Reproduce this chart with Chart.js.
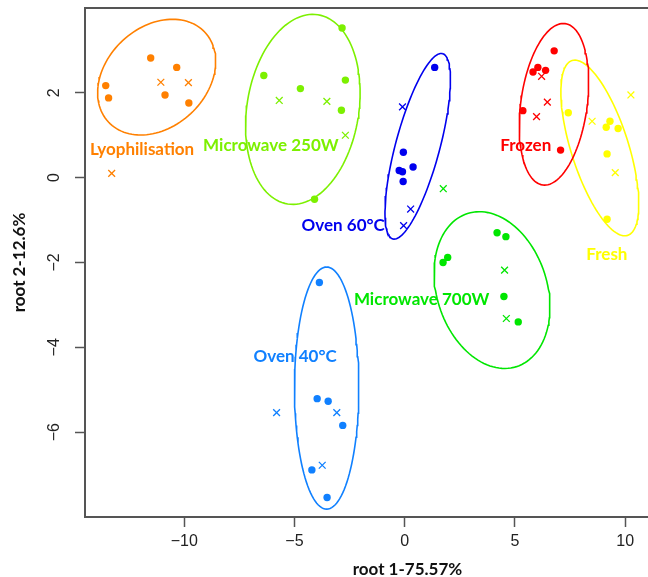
<!DOCTYPE html>
<html>
<head>
<meta charset="utf-8">
<script src="https://cdn.jsdelivr.net/npm/chart.js@4.4.1/dist/chart.umd.min.js"></script>
<style>
	html, body { margin: 0; padding: 0; background: #fff; overflow: hidden; }
	#wrap { width: 648px; height: 577px; overflow: hidden; }
</style>
</head>
<body>
<div id="wrap"><canvas id="lda-canvas" width="736" height="577"></canvas></div>
<script>
// tick values on both axes
const xTicks = [-10, -5, 0, 5, 10];
const yTicks = [-6, -4, -2, 0, 2];

// treatment groups and their colours
const groups = ["Lyophilisation", "Microwave 250W", "Oven 60°C", "Frozen", "Fresh", "Microwave 700W", "Oven 40°C"];
const colors = ["#ff8000", "#7cf000", "#0000ee", "#ff0000", "#ffff00", "#00e600", "#1080ff"];

// samples (filled dots) per group, [root 1, root 2]
const lyoDots = [[-11.52, 2.82], [-10.34, 2.60], [-13.56, 2.17], [-13.43, 1.88], [-10.87, 1.95], [-9.79, 1.76]];
const mw250Dots = [[-2.84, 3.53], [-6.39, 2.41], [-4.73, 2.10], [-2.69, 2.30], [-2.87, 1.59], [-4.09, -0.51]];
const oven60Dots = [[1.36, 2.60], [-0.06, 0.60], [0.38, 0.25], [-0.25, 0.17], [-0.10, 0.14], [-0.07, -0.09]];
const frozenDots = [[6.78, 2.99], [5.82, 2.49], [6.04, 2.60], [6.39, 2.53], [5.36, 1.58], [7.07, 0.65]];
const freshDots = [[7.42, 1.53], [9.31, 1.33], [9.14, 1.19], [9.68, 1.16], [9.18, 0.56], [9.18, -0.98]];
const mw700Dots = [[4.19, -1.30], [4.59, -1.39], [1.95, -1.88], [1.74, -2.00], [4.50, -2.80], [5.15, -3.40]];
const oven40Dots = [[-3.87, -2.47], [-3.97, -5.21], [-3.47, -5.27], [-2.81, -5.84], [-4.21, -6.89], [-3.52, -7.54]];

// cross-validated samples (x marks) per group
const lyoCrosses = [[-11.06, 2.25], [-9.81, 2.24], [-13.29, 0.10]];
const mw250Crosses = [[-5.69, 1.82], [-3.53, 1.80], [-2.69, 1.00]];
const oven60Crosses = [[-0.10, 1.67], [0.27, -0.74], [-0.05, -1.13]];
const frozenCrosses = [[6.21, 2.39], [6.47, 1.78], [5.98, 1.44]];
const freshCrosses = [[8.50, 1.33], [10.26, 1.95], [9.55, 0.12]];
const mw700Crosses = [[4.53, -2.18], [4.61, -3.32], [1.75, -0.26]];
const oven40Crosses = [[-5.81, -5.54], [-3.08, -5.54], [-3.74, -6.78]];

// group ellipses: centre and two conjugate semi-axes, in axis units
const ellipseCenters = [[-11.25, 2.37], [-4.62, 1.61], [0.59, 0.74], [6.77, 1.73], [8.85, 0.70], [3.96, -2.65], [-3.54, -4.96]];
const ellipseAxisU = [[2.187, 1.059], [0.688, 2.230], [1.127, 2.184], [0.508, 1.902], [-1.259, 2.061], [-1.109, 1.805], [0, 2.854]];
const ellipseAxisV = [[-1.545, 0.860], [-2.505, 0.208], [-0.967, 0.135], [-1.490, 0.107], [-1.240, -0.204], [-2.383, -0.395], [-1.459, 0]];

// where each group name is written (text centre)
const labelX = [-11.91, -6.07, -2.79, 5.49, 9.17, 0.77, -4.97];
const labelY = [0.675, 0.75, -1.13, 0.75, -1.80, -2.88, -4.21];

const allDots = [lyoDots, mw250Dots, oven60Dots, frozenDots, freshDots, mw700Dots, oven40Dots];
const allCrosses = [lyoCrosses, mw250Crosses, oven60Crosses, frozenCrosses, freshCrosses, mw700Crosses, oven40Crosses];

const toXY = (arr) => arr.map((p) => ({ x: p[0], y: p[1] }));
const minusSign = (v) => (v < 0 ? "\u2212" + Math.abs(v) : String(v));

function ellipsePoints(i) {
	const c = ellipseCenters[i], u = ellipseAxisU[i], v = ellipseAxisV[i];
	const pts = [];
	for (let k = 0; k <= 120; k++) {
		const t = (k / 120) * Math.PI * 2;
		pts.push({
			x: c[0] + u[0] * Math.cos(t) + v[0] * Math.sin(t),
			y: c[1] + u[1] * Math.cos(t) + v[1] * Math.sin(t),
		});
	}
	return pts;
}

const datasets = [];
groups.forEach((g, i) => {
	datasets.push({
		label: g + " ellipse",
		data: ellipsePoints(i),
		showLine: true,
		borderColor: colors[i],
		borderWidth: 1.6,
		pointRadius: 0,
		tension: 0,
		fill: false,
	});
});
groups.forEach((g, i) => {
	datasets.push({
		label: g,
		data: toXY(allDots[i]),
		pointStyle: "circle",
		pointRadius: 3.7,
		backgroundColor: colors[i],
		borderWidth: 0,
	});
	datasets.push({
		label: g + " x",
		data: toXY(allCrosses[i]),
		pointStyle: "crossRot",
		pointRadius: 4.8,
		borderColor: colors[i],
		borderWidth: 1.3,
	});
});

// group names and the top frame line
const groupLabels = {
	id: "groupLabels",
	afterDatasetsDraw(chart) {
		const ctx = chart.ctx;
		const xs = chart.scales.x, ys = chart.scales.y;
		const area = chart.chartArea;
		ctx.save();
		ctx.font = "bold 17px Lato";
		ctx.textAlign = "center";
		ctx.textBaseline = "middle";
		groups.forEach((g, i) => {
			ctx.fillStyle = colors[i];
			ctx.fillText(g, xs.getPixelForValue(labelX[i]), ys.getPixelForValue(labelY[i]));
		});
		ctx.strokeStyle = "#555";
		ctx.lineWidth = 2;
		ctx.beginPath();
		ctx.moveTo(area.left - 1, area.top);
		ctx.lineTo(area.right, area.top);
		ctx.stroke();
		ctx.restore();
	},
};

new Chart("lda-canvas", {
	type: "scatter",
	data: { datasets: datasets },
	plugins: [groupLabels],
	options: {
		responsive: false,
		animation: false,
		layout: { padding: { top: 8, right: 0, left: 0, bottom: 0 } },
		plugins: {
			legend: { display: false },
			tooltip: { enabled: false },
		},
		scales: {
			x: {
				type: "linear",
				min: -14.5,
				max: 14.75,
				afterBuildTicks: (scale) => { scale.ticks = xTicks.map((v) => ({ value: v })); },
				afterFit: (scale) => {
					scale.height = 60;
					scale.paddingLeft = 0;
					scale.paddingRight = 0;
				},
				border: { display: true, color: "#555", width: 2 },
				grid: { drawOnChartArea: false, drawTicks: true, tickLength: 10, tickColor: "#555", tickWidth: 1.5 },
				ticks: {
					color: "#222",
					font: { family: "Liberation Sans", size: 16 },
					padding: 5,
					callback: (v) => minusSign(v),
				},
				title: {
					display: true,
					text: "root 1-75.57%",
					color: "#111",
					font: { family: "Lato", weight: "bold", size: 17 },
					padding: { top: -2, bottom: -3 },
				},
			},
			y: {
				type: "linear",
				min: -8,
				max: 4,
				afterBuildTicks: (scale) => { scale.ticks = yTicks.map((v) => ({ value: v })); },
				afterFit: (scale) => {
					scale.width = 85;
					scale.paddingTop = 0;
					scale.paddingBottom = 0;
				},
				border: { display: true, color: "#555", width: 2 },
				grid: { drawOnChartArea: false, drawTicks: true, tickLength: 10, tickColor: "#555", tickWidth: 1.5 },
				ticks: {
					color: "#222",
					font: { family: "Liberation Sans", size: 16 },
					minRotation: 90,
					maxRotation: 90,
					crossAlign: "center",
					padding: 11,
					callback: (v) => minusSign(v),
				},
				title: {
					display: true,
					text: "root 2-12.6%",
					color: "#111",
					font: { family: "Lato", weight: "bold", size: 17 },
					padding: { top: 9, bottom: 0 },
				},
			},
		},
	},
});
</script>
</body>
</html>
